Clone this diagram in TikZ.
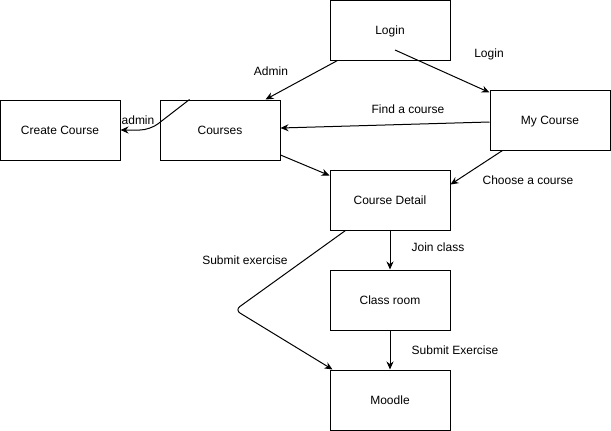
\documentclass[tikz,border=0pt]{standalone}
\usepackage{fontspec}
\setmainfont{Liberation Sans}
\usetikzlibrary{arrows.meta}

\begin{document}
\begin{tikzpicture}[x=1pt,y=-1pt,
  box/.style={draw, line width=1pt, minimum width=120pt, minimum height=60pt, inner sep=0pt},
  arr/.style={-{Stealth[length=8pt,width=7pt]}, line width=1pt},
  lbl/.style={inner sep=0pt},
  every node/.style={font=\fontsize{12}{14}\selectfont, text height=10pt, text depth=1pt}]
\useasboundingbox (0,0) rectangle (611,431);
\node [box] (login) at (390,30) {Login};
\node [box] (create) at (60,130) {Create Course};
\node [box] (courses) at (220,130) {Courses};
\node [box] (mycourse) at (550,120) {My Course};
\node [box] (detail) at (390,200) {Course Detail};
\node [box] (classroom) at (390,300) {Class room};
\node [box] (moodle) at (390,400) {Moodle};
\coordinate (lgout) at (395,50);
\coordinate (bend) at (235,310);

\draw [arr] ([xshift=8pt]login.south west) -- ([xshift=-15pt]courses.north east);
\draw [arr] (lgout) -- ([yshift=-3pt]mycourse.north west);
\draw [arr] ([yshift=-2pt]mycourse.west) -- ([yshift=2pt]courses.east);
\draw [arr] ([xshift=13pt]mycourse.south west) -- ([yshift=-15pt]detail.north east);
\draw [arr] ([yshift=-25pt]courses.east) -- ([yshift=-6pt]detail.north west);
\draw [arr, rounded corners=10pt] ([xshift=30pt]courses.north west) -- (150,130) -- (create.east);
\draw [arr] (detail) -- (classroom);
\draw [arr] (classroom) -- (moodle);
\draw [arr, rounded corners=6pt] ([xshift=16pt]detail.south west) -- (bend) -- ([xshift=3pt]moodle.north west);

\node [lbl] (admin) at (271,71) {Admin};
\node [lbl] (login-l) at (489,53) {Login};
\node [lbl] (find) at (408,109) {Find a course};
\node [lbl] (choose) at (528,180) {Choose a course};
\node [lbl] (admin-l) at (138,120) {admin};
\node [lbl] (join) at (438,247) {Join class};
\node [lbl] (subex) at (245,260) {Submit exercise};
\node [lbl] (subEx) at (455,350) {Submit Exercise};
\end{tikzpicture}
\end{document}
